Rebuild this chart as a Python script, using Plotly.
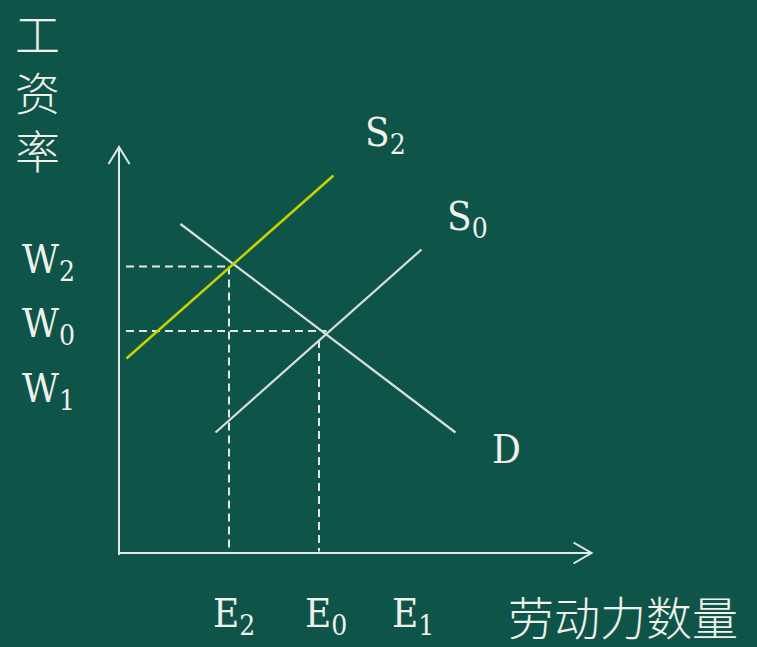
import plotly.graph_objects as go

# 劳动力市场：供给左移后的工资率与就业量
# 坐标单位：横轴=劳动力数量，纵轴=工资率（示意值）

# ---------------------------
# 数据
# ---------------------------
demand_x = [12.3, 67.3]
demand_y = [65.8, 24.1]

supply0_x = [19.3, 60.5]
supply0_y = [24.1, 60.7]

supply2_x = [1.5, 42.9]
supply2_y = [38.9, 75.5]

wage_levels = {'W2': 57.3, 'W0': 44.4}
employment_levels = {'E2': 22.0, 'E0': 40.0}
wage_dash_end = {'W2': 22.0, 'W0': 41.5}
employment_dash_top = {'E2': 57.3, 'E0': 42.6}

axis_x_max = 94.5
axis_y_max = 81.2

x_tick_labels = ['E<sub>2</sub>', 'E<sub>0</sub>', 'E<sub>1</sub>']
x_tick_pos = [18.4, 36.8, 54.2]
y_tick_labels = ['W<sub>2</sub>', 'W<sub>0</sub>', 'W<sub>1</sub>']
y_tick_pos = [58.2, 45.4, 32.4]

curve_labels = ['S<sub>2</sub>', 'S<sub>0</sub>', 'D']
curve_label_x = [48.8, 65.2, 74.2]
curve_label_y = [83.6, 66.8, 20.8]

y_title = '工<br>资<br>率'
x_title = '劳动力数量'

# ---------------------------
# 样式
# ---------------------------
bg = '#0e5448'
axis_color = '#e4e8e4'
line_color = '#d6dfda'
s2_color = '#c8d200'
text_color = '#f0f0ea'
latin_font = 'DejaVu Serif Condensed, DejaVu Serif, serif'
cjk_font = 'Noto Sans CJK SC'

fig = go.Figure()

# 坐标轴（带开口箭头）
fig.add_trace(go.Scatter(x=[0, 0, None, -2.1, 0, 2.1], y=[-0.4, axis_y_max, None, axis_y_max - 3.4, axis_y_max, axis_y_max - 3.4],
                         mode='lines', line=dict(color=axis_color, width=2), hoverinfo='skip'))
fig.add_trace(go.Scatter(x=[0, axis_x_max, None, axis_x_max - 3.6, axis_x_max, axis_x_max - 3.6], y=[0, 0, None, 2.1, 0, -2.1],
                         mode='lines', line=dict(color=axis_color, width=2), hoverinfo='skip'))

# 虚线
for key, y in wage_levels.items():
    fig.add_trace(go.Scatter(x=[1.4, wage_dash_end[key]], y=[y, y], mode='lines',
                             line=dict(color=axis_color, width=2, dash='8px,5px'), hoverinfo='skip'))
for key, x in employment_levels.items():
    fig.add_trace(go.Scatter(x=[x, x], y=[employment_dash_top[key], 0.3], mode='lines',
                             line=dict(color=axis_color, width=2, dash='8px,5px'), hoverinfo='skip'))

# 需求与供给曲线
fig.add_trace(go.Scatter(x=demand_x, y=demand_y, mode='lines', line=dict(color=line_color, width=2.2), hoverinfo='skip'))
fig.add_trace(go.Scatter(x=supply0_x, y=supply0_y, mode='lines', line=dict(color=line_color, width=2.2), hoverinfo='skip'))
fig.add_trace(go.Scatter(x=supply2_x, y=supply2_y, mode='lines', line=dict(color=s2_color, width=2.5), hoverinfo='skip'))

annotations = []
for t, x in zip(x_tick_labels, x_tick_pos):
    annotations.append(dict(x=x, y=-12.6, text=t, xanchor='left', yanchor='middle',
                            font=dict(family=latin_font, size=40, color=text_color)))
for t, y in zip(y_tick_labels, y_tick_pos):
    annotations.append(dict(x=-19.8, y=y, text=t, xanchor='left', yanchor='middle',
                            font=dict(family=latin_font, size=40, color=text_color)))
for t, x, y in zip(curve_labels, curve_label_x, curve_label_y):
    annotations.append(dict(x=x, y=y, text=t, xanchor='left', yanchor='middle',
                            font=dict(family=latin_font, size=40, color=text_color)))

# 轴标题
annotations.append(dict(x=-16.4, y=92.5, text=y_title, xanchor='center', yanchor='middle',
                        font=dict(family=cjk_font, size=45, color=text_color, weight=300)))
annotations.append(dict(x=100.8, y=-12.3, text=x_title, xanchor='center', yanchor='middle',
                        font=dict(family=cjk_font, size=46, color=text_color, weight=300)))

for a in annotations:
    a.update(showarrow=False, xref='x', yref='y')

fig.update_layout(
    width=757, height=647,
    margin=dict(l=0, r=0, t=0, b=0),
    paper_bgcolor=bg, plot_bgcolor=bg,
    showlegend=False,
    xaxis=dict(range=[-23.8, 127.6], visible=False, fixedrange=True),
    yaxis=dict(range=[-18.8, 110.6], visible=False, fixedrange=True),
    annotations=annotations,
)

# 去掉页面默认边距和工具栏
fig.write_html("out.html", config={'displayModeBar': False},
               post_script="document.body.style.margin='0';")
